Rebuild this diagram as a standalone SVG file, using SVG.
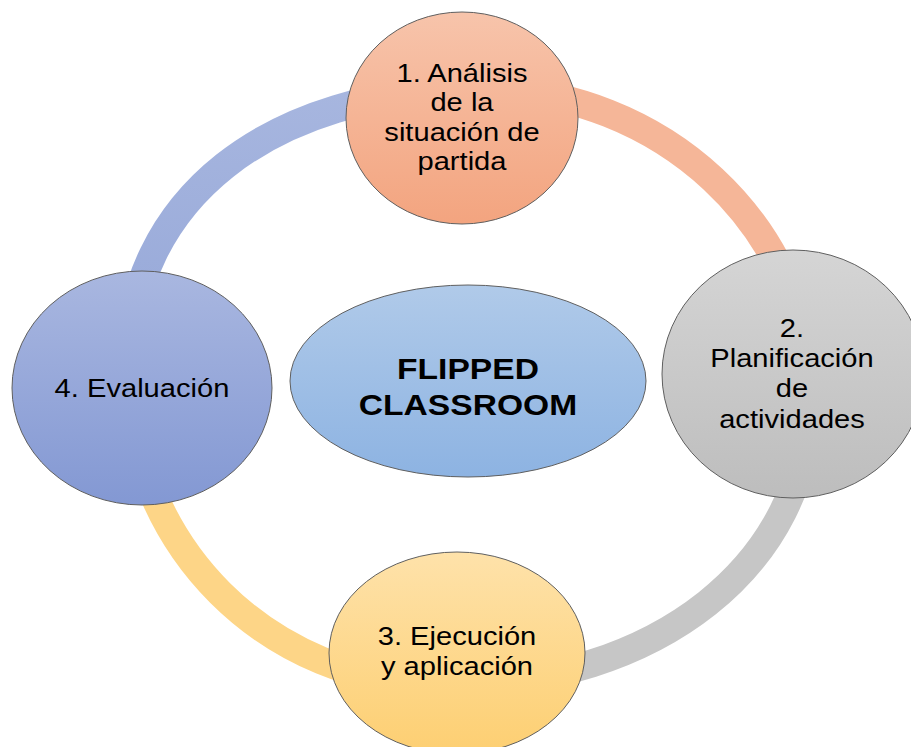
<svg xmlns="http://www.w3.org/2000/svg" width="911" height="747" viewBox="0 0 911 747">
<defs>
<linearGradient id="g1" x1="0" y1="0" x2="0" y2="1"><stop offset="0" stop-color="#F7C4AB"/><stop offset="1" stop-color="#F3A47F"/></linearGradient>
<linearGradient id="g2" x1="0" y1="0" x2="0" y2="1"><stop offset="0" stop-color="#D5D5D5"/><stop offset="1" stop-color="#BDBDBD"/></linearGradient>
<linearGradient id="g3" x1="0" y1="0" x2="0" y2="1"><stop offset="0" stop-color="#FEE2AA"/><stop offset="1" stop-color="#FDCF72"/></linearGradient>
<linearGradient id="g4" x1="0" y1="0" x2="0" y2="1"><stop offset="0" stop-color="#A9B7E0"/><stop offset="1" stop-color="#8398D3"/></linearGradient>
<linearGradient id="gc" x1="0" y1="0" x2="0" y2="1"><stop offset="0" stop-color="#B0CAE9"/><stop offset="1" stop-color="#8DB3E2"/></linearGradient>
<linearGradient id="rb" gradientUnits="userSpaceOnUse" x1="0" y1="90" x2="0" y2="370"><stop offset="0" stop-color="#A7B6DF"/><stop offset="1" stop-color="#95A7D8"/></linearGradient>
</defs>
<style>
.ring{fill:none;stroke-width:28;stroke-linecap:butt}
.node{stroke:#5f5f5f;stroke-width:1}
.t{font-family:"Liberation Sans",Arial,sans-serif;font-size:26px;fill:#000;text-anchor:middle}
.tb{font-family:"Liberation Sans",Arial,sans-serif;font-size:30px;font-weight:bold;fill:#000;text-anchor:middle}
</style>
<rect width="911" height="747" fill="#fff"/>
<g id="connectors">
<path class="ring" stroke="url(#rb)" d="M128 368 C128 200.6 268.8 89 480 89"/>
<path class="ring" stroke="#F5B698" d="M480 89 C661.5 89 810 227.1 810 396"/>
<path class="ring" stroke="#C6C6C6" d="M810 396 C810 563.6 657.1 685 446 685"/>
<path class="ring" stroke="#FDD587" d="M446 685 C268 685 128 545.5 128 368"/>
</g>
<g id="center">
<ellipse class="node" cx="468" cy="381" rx="178" ry="96" fill="url(#gc)"/>
<text class="tb" transform="translate(468,0) scale(1.12,1)" x="0" y="379">FLIPPED</text>
<text class="tb" transform="translate(468,0) scale(1.12,1)" x="0" y="415">CLASSROOM</text>
</g>
<g id="node1">
<ellipse class="node" cx="462" cy="118" rx="116" ry="106" fill="url(#g1)"/>
<g transform="translate(462,0) scale(1.12,1)">
<text class="t" x="0" y="82">1. Análisis</text>
<text class="t" x="0" y="111.5">de la</text>
<text class="t" x="0" y="141">situación de</text>
<text class="t" x="0" y="170.5">partida</text>
</g>
</g>
<g id="node2">
<ellipse class="node" cx="793" cy="374" rx="131" ry="124" fill="url(#g2)"/>
<g transform="translate(792,0) scale(1.12,1)">
<text class="t" x="0" y="337">2.</text>
<text class="t" x="0" y="367">Planificación</text>
<text class="t" x="0" y="397.5">de</text>
<text class="t" x="0" y="428">actividades</text>
</g>
</g>
<g id="node3">
<ellipse class="node" cx="457" cy="653" rx="128" ry="101" fill="url(#g3)"/>
<g transform="translate(457,0) scale(1.12,1)">
<text class="t" x="0" y="645">3. Ejecución</text>
<text class="t" x="0" y="675">y aplicación</text>
</g>
</g>
<g id="node4">
<ellipse class="node" cx="142" cy="388" rx="130" ry="117" fill="url(#g4)"/>
<g transform="translate(142,0) scale(1.12,1)">
<text class="t" x="0" y="397">4. Evaluación</text>
</g>
</g>
</svg>
